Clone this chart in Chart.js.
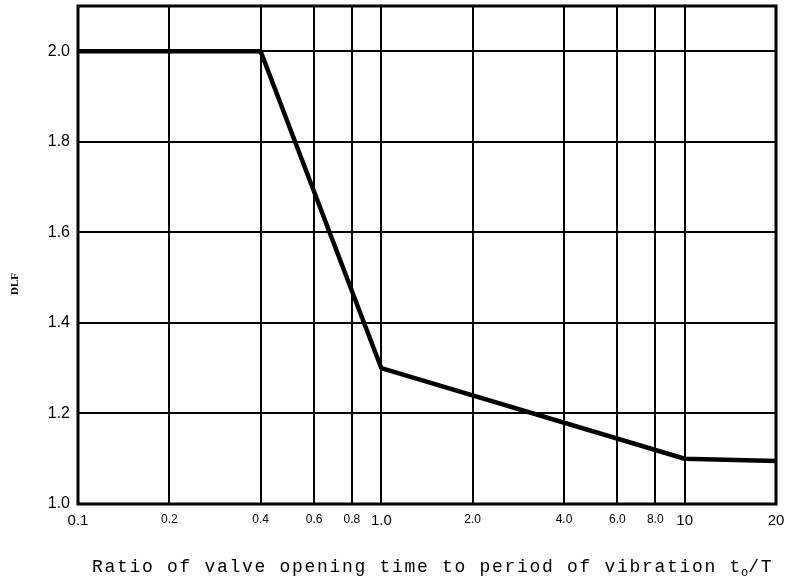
<!DOCTYPE html>
<html>
<head>
<meta charset="utf-8">
<script src="https://cdn.jsdelivr.net/npm/chart.js@4"></script>
<style>
  html, body { margin: 0; padding: 0; background: #fff; }
  #wrap { width: 791px; height: 577px; }
</style>
</head>
<body>
<div id="wrap"><canvas id="dlf-chart"></canvas></div>
<script>
// DLF curve vs. ratio of opening time to period (log x)
const ratio = [0.1, 0.4, 1.0, 10, 20];
const dlf   = [2.0, 2.0, 1.3, 1.1, 1.095];

const xTickValues = [0.1, 0.2, 0.4, 0.6, 0.8, 1.0, 2.0, 4.0, 6.0, 8.0, 10, 20];
const xTickLabels = ['0.1', '0.2', '0.4', '0.6', '0.8', '1.0', '2.0', '4.0', '6.0', '8.0', '10', '20'];
const bigXLabels  = ['0.1', '1.0', '10', '20'];
const yTickValues = [1.0, 1.2, 1.4, 1.6, 1.8, 2.0];

const xTitle = 'Ratio of valve opening time to period of vibration t';
const xTitleSub = 'o';
const xTitleEnd = '/T';
const yTitle = 'DLF';

// frame + axis titles drawn by hand
const frameAndTitles = {
  id: 'frameAndTitles',
  beforeDatasetsDraw(chart) {
    const { ctx, chartArea: a } = chart;
    ctx.save();
    ctx.strokeStyle = '#000';
    ctx.lineWidth = 3;
    ctx.strokeRect(a.left, a.top, a.right - a.left, a.bottom - a.top);
    ctx.restore();
  },
  afterDraw(chart) {
    const { ctx } = chart;
    ctx.save();
    ctx.fillStyle = '#000';
    ctx.textBaseline = 'alphabetic';
    ctx.textAlign = 'left';
    ctx.font = '18px "Liberation Mono", monospace';
    ctx.letterSpacing = '1.7px';
    let x = 92;
    const base = 572;
    ctx.fillText(xTitle, x, base);
    x += ctx.measureText(xTitle).width;
    ctx.font = '12px "Liberation Mono", monospace';
    ctx.letterSpacing = '0px';
    ctx.fillText(xTitleSub, x - 1, base + 4);
    x += ctx.measureText(xTitleSub).width - 1;
    ctx.font = '18px "Liberation Mono", monospace';
    ctx.letterSpacing = '1.7px';
    ctx.fillText(xTitleEnd, x, base);

    ctx.letterSpacing = '0px';
    ctx.translate(15, 284);
    ctx.rotate(-Math.PI / 2);
    ctx.textAlign = 'center';
    ctx.textBaseline = 'middle';
    ctx.font = 'bold 11px "Liberation Serif", serif';
    ctx.fillText(yTitle, 0, 0);
    ctx.restore();
  }
};

new Chart(document.getElementById('dlf-chart'), {
  type: 'line',
  data: {
    datasets: [{
      data: ratio.map((r, i) => ({ x: r, y: dlf[i] })),
      borderColor: '#000',
      borderWidth: 4.5,
      pointRadius: 0,
      tension: 0,
      borderJoinStyle: 'round'
    }]
  },
  options: {
    responsive: true,
    maintainAspectRatio: false,
    animation: false,
    layout: { padding: { top: 6, right: 15, bottom: 0, left: 0 } },
    plugins: { legend: { display: false }, tooltip: { enabled: false } },
    scales: {
      x: {
        type: 'logarithmic',
        min: 0.1,
        max: 20,
        afterBuildTicks: (s) => { s.ticks = xTickValues.map(v => ({ value: v })); },
        afterFit: (s) => { s.height = 73; s.paddingLeft = 0; s.paddingRight = 0; },
        grid: { color: '#000', lineWidth: 2, drawTicks: false },
        border: { display: false },
        ticks: {
          autoSkip: false,
          maxRotation: 0,
          padding: 8,
          color: '#000',
          font: (c) => bigXLabels.includes(xTickLabels[c.index])
            ? { family: '"Liberation Sans", Arial, sans-serif', size: 15 }
            : { family: '"Liberation Sans", Arial, sans-serif', size: 12 },
          callback: (v, i) => xTickLabels[i]
        }
      },
      y: {
        min: 1.0,
        max: 2.1,
        afterBuildTicks: (s) => { s.ticks = yTickValues.map(v => ({ value: v })); },
        afterFit: (s) => { s.width = 78; s.paddingTop = 0; s.paddingBottom = 0; },
        grid: { color: '#000', lineWidth: 2, drawTicks: false },
        border: { display: false },
        ticks: {
          padding: 8,
          color: '#000',
          font: { family: '"Liberation Sans", Arial, sans-serif', size: 16 },
          callback: (v) => v.toFixed(1)
        }
      }
    }
  },
  plugins: [frameAndTitles]
});
</script>
</body>
</html>
